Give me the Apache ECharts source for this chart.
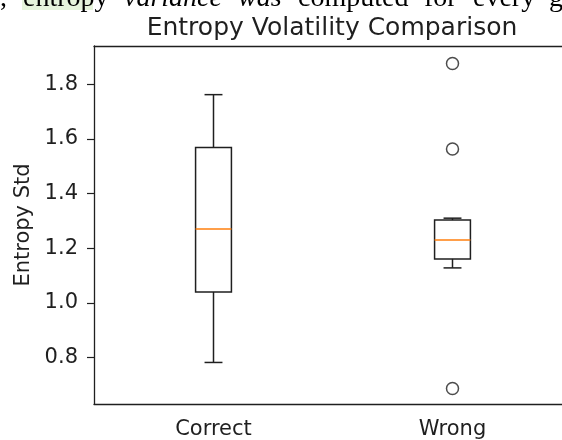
<!DOCTYPE html>
<html>
<head>
<meta charset="utf-8">
<script src="https://cdn.jsdelivr.net/npm/echarts@6/dist/echarts.min.js"></script>
<style>
  html, body { margin: 0; padding: 0; background: #fff; }
  #chart { width: 562px; height: 440px; }
</style>
</head>
<body>
<div id="chart"></div>
<script>
// values
const categories = ['Correct', 'Wrong'];
// [lower whisker, Q1, median, Q3, upper whisker]
const correctStats = [0.782, 1.040, 1.270, 1.569, 1.762];
const wrongStats = [1.128, 1.161, 1.230, 1.303, 1.310];
const wrongOutliers = [1.876, 1.563, 0.687];
const yTicks = [0.8, 1.0, 1.2, 1.4, 1.6, 1.8];

const FONT = 'DejaVu Sans';
const INK = '#1f1f1f';

const boxData = [
  [0].concat(correctStats),
  [1].concat(wrongStats)
];

// cut-off line of document text above the figure (justified, so words placed one by one)
const headerWords = [
  [',', 0, false], ['entropy', 23, false], ['variance', 124, true], ['was', 238, true],
  ['computed', 298, false], ['for', 424, false], ['every', 473, false], ['g', 549, false]
];

function renderBox(params, api) {
  const idx = api.value(0);
  const band = api.size([1, 0])[0];
  const half = band * 0.075;
  const capHalf = half / 2;
  const pLo = api.coord([idx, api.value(1)]);
  const pQ1 = api.coord([idx, api.value(2)]);
  const pMed = api.coord([idx, api.value(3)]);
  const pQ3 = api.coord([idx, api.value(4)]);
  const pHi = api.coord([idx, api.value(5)]);
  const x = pMed[0];
  const black = { stroke: INK, lineWidth: 1.5, fill: null };
  return {
    type: 'group',
    children: [
      { type: 'line', shape: { x1: x, y1: pQ1[1], x2: x, y2: pLo[1] }, style: black },
      { type: 'line', shape: { x1: x, y1: pQ3[1], x2: x, y2: pHi[1] }, style: black },
      { type: 'line', shape: { x1: x - capHalf, y1: pLo[1], x2: x + capHalf, y2: pLo[1] }, style: black },
      { type: 'line', shape: { x1: x - capHalf, y1: pHi[1], x2: x + capHalf, y2: pHi[1] }, style: black },
      { type: 'rect', shape: { x: x - half, y: pQ3[1], width: half * 2, height: pQ1[1] - pQ3[1] }, style: black },
      { type: 'line', shape: { x1: x - half, y1: pMed[1], x2: x + half, y2: pMed[1] },
        style: { stroke: '#ff7f0e', lineWidth: 1.5 } }
    ]
  };
}

const headerGraphics = headerWords.map(([word, x, italic]) => ({
  type: 'text', x: x, y: -15, silent: true,
  style: {
    text: word,
    fontFamily: 'Liberation Serif',
    fontSize: 28,
    fontStyle: italic ? 'italic' : 'normal',
    fill: '#000'
  }
}));

const myChart = echarts.init(document.getElementById('chart'), null, { renderer: 'canvas' });

const option = {
  backgroundColor: '#fff',
  animation: false,
  title: {
    text: 'Entropy Volatility Comparison',
    left: 327,
    top: 11,
    textAlign: 'center',
    textStyle: { fontFamily: FONT, fontSize: 25, fontWeight: 'normal', color: INK }
  },
  graphic: [
    { type: 'rect', shape: { x: 22, y: 0, width: 71, height: 10 }, style: { fill: '#e6f4dc' }, silent: true, z: -1 }
  ].concat(headerGraphics),
  grid: {
    left: 94, top: 46, width: 478, height: 358,
    containLabel: false,
    outerBoundsMode: 'none'
  },
  xAxis: [
    {
      type: 'category',
      data: categories,
      boundaryGap: true,
      axisLine: { lineStyle: { color: INK, width: 1.3 } },
      axisTick: { alignWithLabel: true, length: 7, lineStyle: { color: INK, width: 1.2 } },
      axisLabel: { fontFamily: FONT, fontSize: 21, color: INK, margin: 15 },
      splitLine: { show: false }
    },
    {
      // top spine only
      type: 'category',
      data: categories,
      position: 'top',
      axisLine: { lineStyle: { color: INK, width: 1.3 } },
      axisTick: { show: false },
      axisLabel: { show: false },
      splitLine: { show: false }
    }
  ],
  yAxis: {
    type: 'value',
    min: 0.63,
    max: 1.94,
    name: 'Entropy Std',
    nameLocation: 'middle',
    nameGap: 60,
    nameTextStyle: { fontFamily: FONT, fontSize: 21, color: INK },
    axisLine: { show: true, lineStyle: { color: INK, width: 1.3 } },
    axisTick: { show: true, length: 7, customValues: yTicks, lineStyle: { color: INK, width: 1.2 } },
    axisLabel: {
      fontFamily: FONT, fontSize: 21, color: INK, margin: 16,
      customValues: yTicks,
      formatter: (v) => v.toFixed(1)
    },
    splitLine: { show: false }
  },
  series: [
    {
      type: 'custom',
      renderItem: renderBox,
      encode: { x: 0, y: [1, 2, 3, 4, 5] },
      data: boxData,
      z: 3
    },
    {
      type: 'scatter',
      symbol: 'circle',
      symbolSize: 12,
      itemStyle: { color: 'transparent', borderColor: INK, borderWidth: 1.5 },
      data: wrongOutliers.map((v) => [1, v]),
      z: 4
    }
  ]
};

myChart.setOption(option);
</script>
</body>
</html>
